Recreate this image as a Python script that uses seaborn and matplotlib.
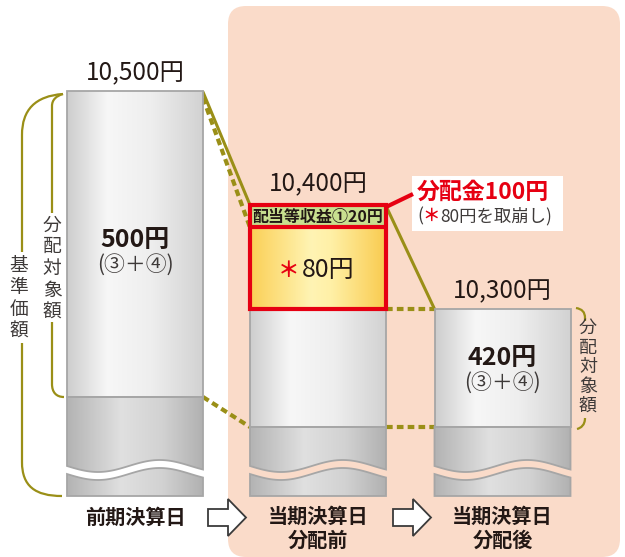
import numpy as np
import matplotlib
matplotlib.use("Agg")
import matplotlib.pyplot as plt
import seaborn as sns
from matplotlib.patches import Polygon, FancyBboxPatch, Rectangle, PathPatch
from matplotlib.path import Path
from matplotlib.colors import LinearSegmentedColormap

# ---------------- data ----------------
stage_labels = ["前期決算日", "当期決算日\n分配前", "当期決算日\n分配後"]
nav_values = [10500, 10400, 10300]
nav_labels = ["10,500円", "10,400円", "10,300円"]
target_labels = ["500円", "", "420円"]
target_note = "(③＋④)"
income_value = 20
capital_value = 80
payout_value = 100
income_label = "配当等収益①20円"
capital_label = "80円"
payout_label = "分配金100円"
payout_note = "80円を取崩し)"
left_outer_label = "基準価額"
target_name = "分配対象額"

# ---------------- style ----------------
sns.set_theme(style="white")
plt.rcParams['font.family'] = ['Noto Sans CJK JP', 'DejaVu Sans']

INK = '#231815'
SUB = '#3e3a39'
OLIVE = '#9a8f17'
RED = '#e60012'
PINK = '#fadbc9'
GRAYEDGE = '#a6a6a6'
LIGHT = [(0, '#cdcdcd'), (0.3, '#f7f7f7'), (0.62, '#eeeeee'), (1, '#d2d2d2')]
DARK = [(0, '#b3b3b3'), (0.4, '#e0e0e0'), (0.7, '#d2d2d2'), (1, '#b1b1b1')]
YELLOW = [(0, '#fbcf55'), (0.45, '#fff4b4'), (0.6, '#fff0a6'), (1, '#f9cb4f')]

BAR_X = [135, 318, 502.5]
BAR_W = 136
BASE_Y = [397, 427, 427]
WAVE_Y = 470
BOTTOM_Y = 496


def vy(v):
    # schematic scale: yen -> vertical position
    return 202 - (v - 10400) * 1.07


fig = plt.figure(figsize=(6.25, 5.57), dpi=100)
ax = fig.add_axes([0, 0, 1, 1])


def gradient(patch, x0, x1, y0, y1, stops, z):
    cmap = LinearSegmentedColormap.from_list("g", stops)
    g = np.linspace(0, 1, 256)[None, :]
    im = ax.imshow(g, cmap=cmap, extent=[x0, x1, y1, y0], aspect="auto",
                   zorder=z, interpolation="bilinear")
    im.set_clip_path(patch)


def wave(x0, x1, offset, n=80):
    xs = np.linspace(x0, x1, n)
    t = (xs - x0) / (x1 - x0)
    ys = WAVE_Y + 6 * np.sin(2 * np.pi * 1.1 * t) + offset
    return xs, ys


# pink background
ax.add_patch(FancyBboxPatch((228 + 18, 6 + 18), 392 - 36, 551 - 36,
                            boxstyle="round,pad=18", fc=PINK, ec='none', zorder=0))

# bars
for i in range(3):
    x0 = BAR_X[i] - BAR_W / 2
    x1 = x0 + BAR_W
    top = vy(nav_values[i]) if i != 1 else vy(nav_values[1] - payout_value)
    if i == 0:
        top = top - 4
    light = Rectangle((x0, top), BAR_W, BASE_Y[i] - top, fc='none', ec=GRAYEDGE, lw=1.3, zorder=3)
    ax.add_patch(light)
    gradient(light, x0, x1, top, BASE_Y[i], LIGHT, 2.5)
    xs, ys = wave(x0, x1, -4)
    pts = [(x0, BASE_Y[i]), (x1, BASE_Y[i])] + list(zip(xs[::-1], ys[::-1]))
    up = Polygon(pts, closed=True, fc='none', ec=GRAYEDGE, lw=1.3, zorder=3)
    ax.add_patch(up)
    gradient(up, x0, x1, BASE_Y[i], WAVE_Y + 12, DARK, 2.5)
    xs, ys = wave(x0, x1, 4)
    pts = list(zip(xs, ys)) + [(x1, BOTTOM_Y), (x0, BOTTOM_Y)]
    lo = Polygon(pts, closed=True, fc='none', ec=GRAYEDGE, lw=1.3, zorder=3)
    ax.add_patch(lo)
    gradient(lo, x0, x1, WAVE_Y - 8, BOTTOM_Y, DARK, 2.5)

# red box (distribution) on bar 2
bx0 = BAR_X[1] - BAR_W / 2
btop = vy(nav_values[1]) + 3
bmid = vy(nav_values[1] - income_value) + 4
bbot = vy(nav_values[1] - income_value - capital_value)
ax.add_patch(Rectangle((bx0, btop), BAR_W, bmid - btop, fc='#c8df8f', ec='none', zorder=4))
yrect = Rectangle((bx0, bmid), BAR_W, bbot - bmid, fc='none', ec='none', zorder=4)
ax.add_patch(yrect)
gradient(yrect, bx0, bx0 + BAR_W, bmid, bbot, YELLOW, 4)
ax.add_patch(Rectangle((bx0, btop), BAR_W, bbot - btop, fc='none', ec=RED, lw=3, zorder=6))
ax.plot([bx0, bx0 + BAR_W], [bmid, bmid], color=RED, lw=3, zorder=6, solid_capstyle='butt')

ax.text(BAR_X[1], (btop + bmid) / 2 + 1, income_label, ha='center', va='center',
        fontsize=11.5, fontweight='bold', color=INK, zorder=7)
cy = (bmid + bbot) / 2 + 2
ax.text(BAR_X[1] - 29, cy, "＊", ha='center', va='center', fontsize=15.5, fontweight='bold',
        color=RED, zorder=7)
ax.text(BAR_X[1] - 16, cy, capital_label, ha='left', va='center', fontsize=18,
        color=INK, zorder=7)

# connecting lines
r0 = BAR_X[0] + BAR_W / 2
l1 = BAR_X[1] - BAR_W / 2
r1 = BAR_X[1] + BAR_W / 2
l2 = BAR_X[2] - BAR_W / 2
dash = (0, (1.6, 1.0))
ax.plot([r0, l1], [vy(nav_values[0]) - 3, btop], color=OLIVE, lw=2.2, zorder=2)
ax.plot([r1, l2], [btop + 1, vy(nav_values[2])], color=OLIVE, lw=2.2, zorder=2)
ax.plot([r0, l1], [vy(nav_values[0]) + 3, bmid], color=OLIVE, lw=3, ls=dash, zorder=2)
ax.plot([r0, l1], [BASE_Y[0], BASE_Y[1]], color=OLIVE, lw=3, ls=dash, zorder=2)
ax.plot([r1, l2], [BASE_Y[1], BASE_Y[2]], color=OLIVE, lw=3, ls=dash, zorder=2)
ax.plot([r1, l2], [bbot, bbot], color=OLIVE, lw=3, ls=dash, zorder=2)

# payout callout
ax.add_patch(Rectangle((412, 176), 151, 55, fc='white', ec='none', zorder=5))
ax.plot([r1, 413], [btop + 2, 194], color=RED, lw=3, zorder=6, solid_capstyle='butt')
ax.text(417, 192, payout_label, ha='left', va='center', fontsize=16.5, fontweight='bold',
        color=RED, zorder=7)
ax.text(417, 216, "(", ha='left', va='center', fontsize=12.5, color=SUB, zorder=7)
ax.text(431, 216, "＊", ha='center', va='center', fontsize=12.5,
        fontweight='bold', color=RED, zorder=7)
ax.text(440, 216, payout_note, ha='left', va='center', fontsize=12.5, color=SUB, zorder=7)

# value labels
for i in range(3):
    top = vy(nav_values[i]) + (-4 if i == 0 else 0)
    ax.text(BAR_X[i], top - 18, nav_labels[i], ha='center', va='center', fontsize=17.5,
            color=INK, zorder=7)
ax.text(BAR_X[0], 240, target_labels[0], ha='center', va='center', fontsize=18,
        fontweight='bold', color=INK, zorder=7)
ax.text(BAR_X[0], 265, target_note, ha='center', va='center', fontsize=15, color=SUB, zorder=7)
ax.text(BAR_X[2], 358, target_labels[2], ha='center', va='center', fontsize=18,
        fontweight='bold', color=INK, zorder=7)
ax.text(BAR_X[2], 383, target_note, ha='center', va='center', fontsize=15, color=SUB, zorder=7)

# brackets
def bracket(verts, codes):
    ax.add_patch(PathPatch(Path(verts, codes), fc='none', ec=OLIVE, lw=1.6, zorder=2))

M, L, C = Path.MOVETO, Path.LINETO, Path.CURVE4
bracket([(63, 94), (35, 96), (22, 110), (22, 135), (22, 252)], [M, C, C, C, L])
bracket([(22, 343), (22, 462), (22, 486), (35, 496), (62, 496)], [M, L, C, C, C])
bracket([(63, 94), (56, 96), (52, 100), (52, 106), (52, 213)], [M, C, C, C, L])
bracket([(52, 322), (52, 384), (52, 392), (56, 397), (64, 397)], [M, L, C, C, C])
bracket([(576, 308), (582, 309), (585, 312), (585, 318), (585, 321)], [M, C, C, C, L])
bracket([(585, 418), (585, 425), (581, 428), (577, 429)], [M, C, C, C])

for k, ch in enumerate(left_outer_label):
    ax.text(19, 265 + k * 22, ch, ha='center', va='center', fontsize=13.5, color=SUB, zorder=7)
for k, ch in enumerate(target_name):
    ax.text(52, 225 + k * 21.7, ch, ha='center', va='center', fontsize=13.5, color=SUB, zorder=7)
for k, ch in enumerate(target_name):
    ax.text(588, 328 + k * 19.5, ch, ha='center', va='center', fontsize=13, color=SUB, zorder=7)

# stage labels
for i, lab in enumerate(stage_labels):
    yc = 528.5 if '\n' in lab else 517
    ax.text(BAR_X[i], yc, lab, ha='center', va='center',
            fontsize=14.5, fontweight='bold', color=INK, linespacing=1.15, zorder=7)

# block arrows
for ax0 in (208, 393):
    pts = [(ax0, 509), (ax0 + 20, 509), (ax0 + 20, 499), (ax0 + 38, 517.5),
           (ax0 + 20, 536), (ax0 + 20, 526), (ax0, 526)]
    ax.add_patch(Polygon(pts, closed=True, fc='white', ec='#3a3a3a', lw=1.3, zorder=5))

ax.set_xlim(0, 625)
ax.set_ylim(557, 0)
ax.axis('off')
fig.savefig("out.png", dpi=100)
